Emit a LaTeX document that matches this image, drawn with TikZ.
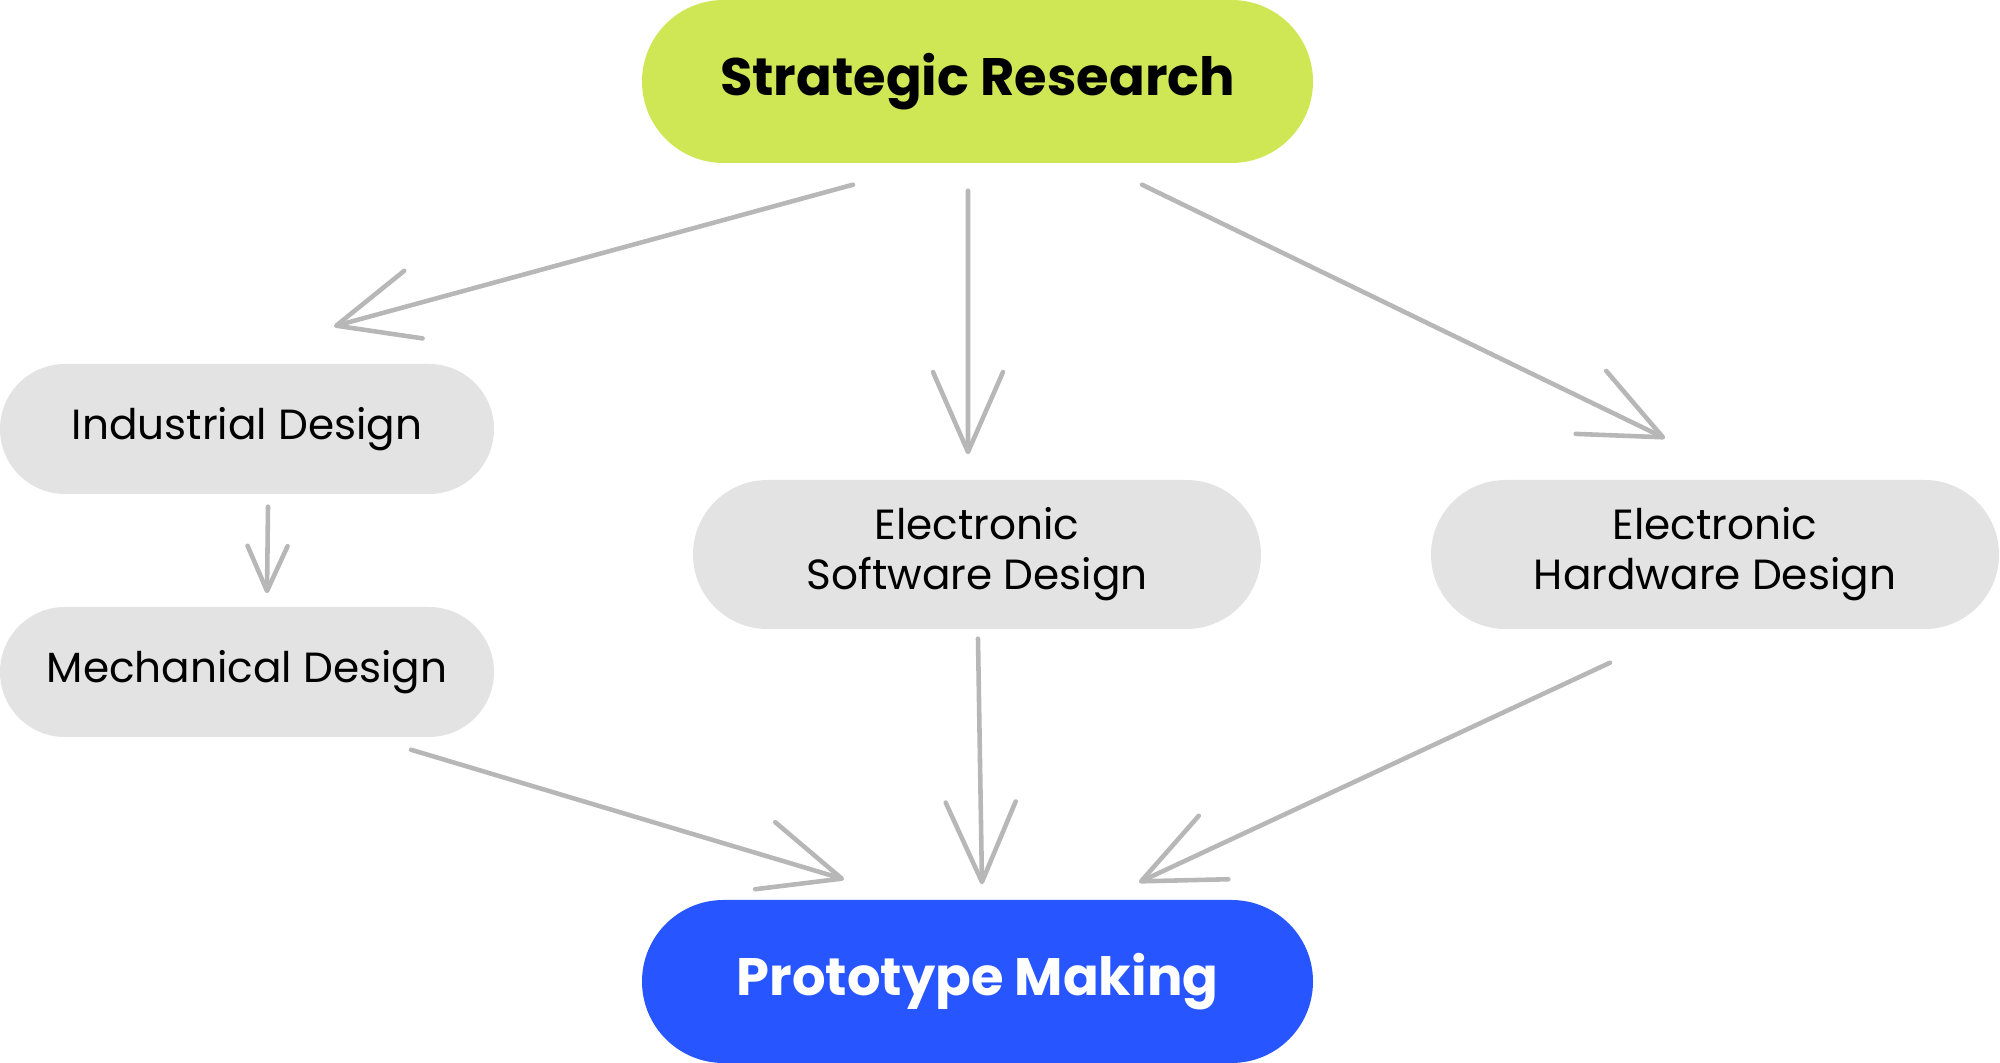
\documentclass[tikz,border=0pt]{standalone}
\usepackage{fontspec}
\setmainfont{Poppins}
\usetikzlibrary{arrows.meta,calc}
\definecolor{strategylime}{HTML}{CFE655}
\definecolor{protoblue}{HTML}{2755FF}
\definecolor{boxgray}{HTML}{E3E3E3}
\definecolor{linkgray}{HTML}{B7B7B7}
\tikzset{
  topic/.style={rectangle, fill=boxgray, inner sep=0pt, rounded corners=0.65cm,
    minimum width=4.94cm, minimum height=1.30cm, align=center,
    font=\fontsize{12}{14.3}\selectfont},
  wide topic/.style={topic, rounded corners=0.745cm, minimum width=5.68cm, minimum height=1.49cm},
  goal/.style={rectangle, inner sep=0pt, rounded corners=0.815cm,
    minimum width=6.71cm, minimum height=1.63cm, font=\fontsize{15}{18}\selectfont\bfseries},
  link/.style={draw=linkgray, line width=1.3pt, line cap=round,
    -{Straight Barb[length=8mm,width=7mm,round]}},
  short link/.style={link, -{Straight Barb[length=4.5mm,width=4mm,round]}},
}
\begin{document}
\begin{tikzpicture}
   			\useasboundingbox (0,0) rectangle (20,-10.63);
   			% Top: strategic research
   			\node[goal, fill=strategylime] (strat) at (9.775,-0.815) {Strategic Research};
   			% Left column: industrial and mechanical design
   			\node[topic] (ind) at (2.47,-4.29) {Industrial Design};
   			\node[topic] (mech) at (2.47,-6.72) {Mechanical Design};
   			% Middle and right: electronic design
   			\node[wide topic] (soft) at (9.77,-5.545) {Electronic\\Software Design};
   			\node[wide topic] (hard) at (17.15,-5.545) {Electronic\\Hardware Design};
   			% Bottom: prototype making
   			\node[goal, fill=protoblue, text=white] (proto) at (9.775,-9.815) {Prototype Making};
			% --- Arrows from research ---
   			\draw[link] ($(strat.south)+(-1.245,-0.21)$) -- ($(ind.north)+(0.87,0.37)$);
   			\draw[link] ($(strat.south)+(-0.095,-0.27)$) -- ($(soft.north)+(-0.09,0.25)$);
   			\draw[link] ($(strat.south)+(1.645,-0.21)$) -- ($(hard.north)+(-0.50,0.41)$);
   			% Industrial design feeds mechanical design
   			\draw[short link] ($(ind.south)+(0.21,-0.12)$) -- ($(mech.north)+(0.20,0.13)$);
			% --- Arrows into the prototype ---
   			\draw[link] ($(mech.south)+(1.64,-0.12)$) -- ($(proto.north)+(-1.335,0.20)$);
   			\draw[link] ($(soft.south)+(0.01,-0.09)$) -- ($(proto.north)+(0.045,0.15)$);
   			\draw[link] ($(hard.south)+(-1.05,-0.33)$) -- ($(proto.north)+(1.615,0.17)$);
 			\end{tikzpicture}
\end{document}
